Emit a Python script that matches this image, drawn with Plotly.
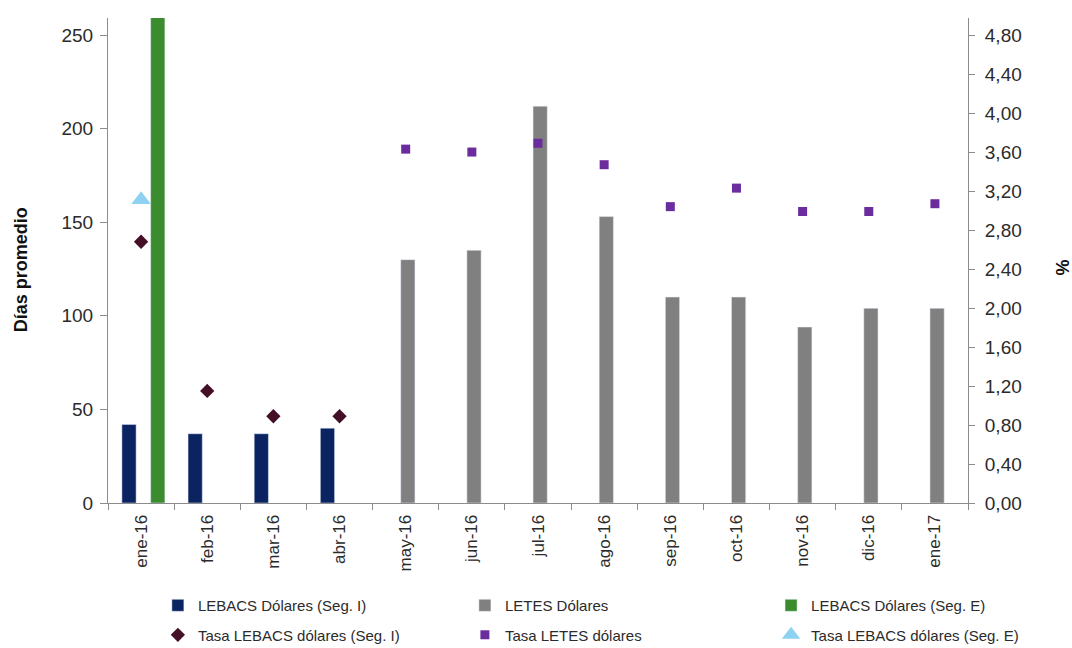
import plotly.graph_objects as go

# Categories (months)
meses = ["ene-16", "feb-16", "mar-16", "abr-16", "may-16", "jun-16", "jul-16",
         "ago-16", "sep-16", "oct-16", "nov-16", "dic-16", "ene-17"]

# Average days to maturity (left axis)
lebacs_seg_i_dias = [42, 37, 37, 40, None, None, None, None, None, None, None, None, None]
letes_dias = [None, None, None, None, 130, 135, 212, 153, 110, 110, 94, 104, 104]
lebacs_seg_e_dias = [300, None, None, None, None, None, None, None, None, None, None, None, None]

# Rates in % (right axis)
tasa_lebacs_seg_i = [2.68, 1.15, 0.89, 0.89, None, None, None, None, None, None, None, None, None]
tasa_letes = [None, None, None, None, 3.63, 3.60, 3.69, 3.47, 3.04, 3.23, 2.99, 2.99, 3.07]
tasa_lebacs_seg_e = [3.11, None, None, None, None, None, None, None, None, None, None, None, None]

left_ticks = [0, 50, 100, 150, 200, 250]
right_ticks = [0, 0.4, 0.8, 1.2, 1.6, 2.0, 2.4, 2.8, 3.2, 3.6, 4.0, 4.4, 4.8]

NAVY = "#0b2361"
GRAY = "#808080"
GREEN = "#3b8b2f"
MAROON = "#431028"
PURPLE = "#6b2c9e"
SKY = "#8dd2f3"
AXIS = "#8c8c8c"
TXT = "#2b2b2b"
FONT = "Liberation Sans, Arial, sans-serif"

fig = go.Figure()

bar_w = 0.215
fig.add_trace(go.Bar(x=meses, y=lebacs_seg_i_dias, name="LEBACS Dólares (Seg. I)",
                     marker_color=NAVY, width=bar_w, offset=-0.29, yaxis="y",
                     legend="legend", legendgroup="a"))
fig.add_trace(go.Bar(x=meses, y=letes_dias, name="LETES Dólares",
                     marker_color=GRAY, width=bar_w, offset=-0.075, yaxis="y",
                     legend="legend2", legendgroup="b"))
fig.add_trace(go.Bar(x=meses, y=lebacs_seg_e_dias, name="LEBACS Dólares (Seg. E)",
                     marker_color=GREEN, width=bar_w, offset=0.145, yaxis="y",
                     legend="legend3", legendgroup="c"))

fig.add_trace(go.Scatter(x=meses, y=tasa_lebacs_seg_i, name="Tasa LEBACS dólares (Seg. I)",
                         mode="markers", yaxis="y2", legend="legend", legendgroup="d",
                         marker=dict(symbol="diamond", size=11, color=MAROON)))
fig.add_trace(go.Scatter(x=meses, y=tasa_letes, name="Tasa LETES dólares",
                         mode="markers", yaxis="y2", legend="legend2", legendgroup="e",
                         marker=dict(symbol="square", size=9, color=PURPLE)))
fig.add_trace(go.Scatter(x=meses, y=tasa_lebacs_seg_e, name="Tasa LEBACS dólares (Seg. E)",
                         mode="markers", yaxis="y2", legend="legend3", legendgroup="f",
                         marker=dict(symbol="triangle-up", size=17, color=SKY)))


def legend_col(x):
    return dict(
        orientation="v", x=x, xref="paper", xanchor="left",
        y=0.091, yref="container", yanchor="top",
        font=dict(family=FONT, size=15, color=TXT),
        itemwidth=30, traceorder="grouped", tracegroupgap=7,
        bgcolor="rgba(0,0,0,0)",
    )


fig.update_layout(
    width=1072, height=648,
    margin=dict(l=108, r=104, t=18, b=145, autoexpand=False),
    paper_bgcolor="white", plot_bgcolor="white",
    barmode="overlay",
    separators=",.",
    font=dict(family=FONT, size=17, color=TXT),
    showlegend=True,
    legend=legend_col(0.058),
    legend2=legend_col(0.415),
    legend3=legend_col(0.771),
    xaxis=dict(
        type="category", categoryorder="array", categoryarray=meses,
        range=[-0.5, 12.5],
        showline=True, linecolor=AXIS, linewidth=1,
        ticks="outside", ticklen=6, tickcolor=AXIS, tickson="boundaries",
        tickangle=-90, tickfont=dict(size=17, color=TXT), ticklabelstandoff=4,
        showgrid=False, zeroline=False,
    ),
    yaxis=dict(
        range=[0, 259.1], tickvals=left_ticks,
        showline=True, linecolor=AXIS, linewidth=1,
        ticks="outside", ticklen=7, tickcolor=AXIS, ticklabelstandoff=3,
        tickfont=dict(size=19, color=TXT),
        showgrid=False, zeroline=False,
    ),
    yaxis2=dict(
        overlaying="y", side="right",
        range=[0, 4.975], tickvals=right_ticks, tickformat=".2f",
        showline=True, linecolor=AXIS, linewidth=1,
        ticks="outside", ticklen=6, tickcolor=AXIS, ticklabelstandoff=6,
        tickfont=dict(size=19, color=TXT),
        showgrid=False, zeroline=False,
    ),
    annotations=[
        dict(text="<b>Días promedio</b>", xref="paper", yref="paper",
             x=-0.101, y=0.48, textangle=-90, showarrow=False,
             xanchor="center", yanchor="middle",
             font=dict(family=FONT, size=18, color="#111111")),
        dict(text="<b>%</b>", xref="paper", yref="paper",
             x=1.110, y=0.4845, textangle=-90, showarrow=False,
             xanchor="center", yanchor="middle",
             font=dict(family=FONT, size=18, color="#111111")),
    ],
)

fig.write_html("out.html")
